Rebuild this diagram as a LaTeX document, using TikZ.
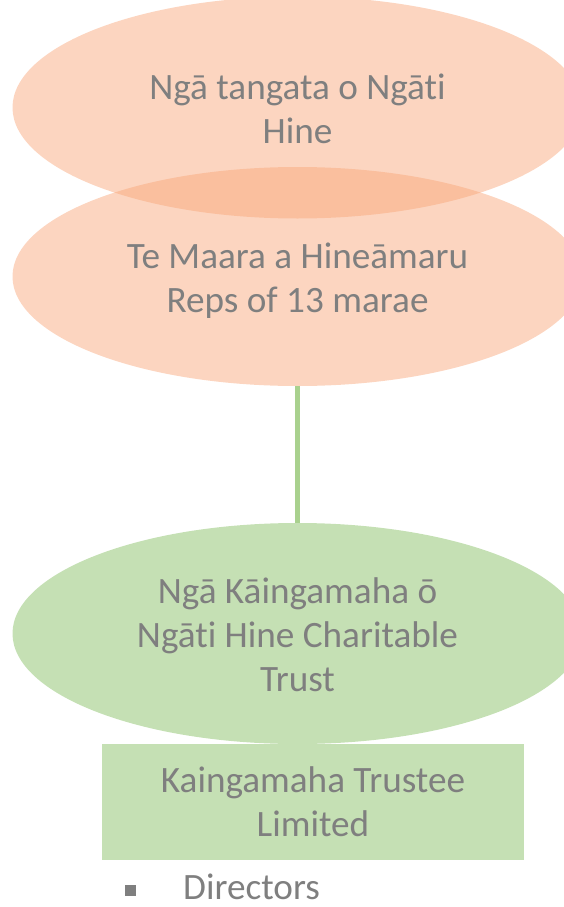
\documentclass[tikz,border=0pt]{standalone}
\usepackage{fontspec}
\setmainfont{Carlito}[Ligatures={NoCommon,NoContextual,NoRare}]
\usetikzlibrary{shapes.geometric}
\definecolor{peach}{RGB}{248,164,118}
\definecolor{lgreen}{RGB}{197,224,180}
\definecolor{lnk}{RGB}{169,209,142}
\definecolor{txtgray}{RGB}{127,127,127}
\tikzset{
  ell/.style={ellipse, inner sep=0pt, minimum width=570pt},
  peachell/.style={ell, fill=peach, fill opacity=0.46, minimum height=222pt},
  greenell/.style={ell, fill=lgreen, minimum height=221pt},
  txt/.style={text=txtgray, align=center, font=\fontsize{37.2pt}{44pt}\selectfont, inner sep=0pt},
  link/.style={draw=lnk, line width=5.5pt}
}
\begin{document}
\begin{tikzpicture}[x=1pt,y=1pt]
\useasboundingbox (0,0) rectangle (564,-907);
\node[peachell] (e1) at (297.5,-107.5) {};
\node[peachell, minimum height=219pt] (e2) at (297.5,-276.5) {};
\node[greenell] (e3) at (297.5,-633.5) {};
\draw[link] (e2.south) -- (e3.north);
\node[fill=lgreen, minimum width=422pt, minimum height=116pt, inner sep=0pt] (r1) at (313,-802) {};
\node[txt, anchor=base] (t1) at (297.5,-143) {Ngā tangata o Ngāt\kern0pt i\\Hine};
\node[txt, anchor=base] (t2) at (297.5,-312) {Te Maara a Hineāmaru\\Reps of 13 marae};
\node[txt, anchor=base] (t3) at (297.5,-691) {Ngā Kāingamaha ō\\Ngāt\kern0pt i Hine Charitable\\Trust};
\node[txt, anchor=base] (t4) at (313,-836) {Kaingamaha Trustee\\Limited};
\node[fill=txtgray, minimum size=11pt, inner sep=0pt] (b1) at (130,-890.5) {};
\node[txt, anchor=base west] (t5) at (183,-899) {Directors};
\end{tikzpicture}
\end{document}
